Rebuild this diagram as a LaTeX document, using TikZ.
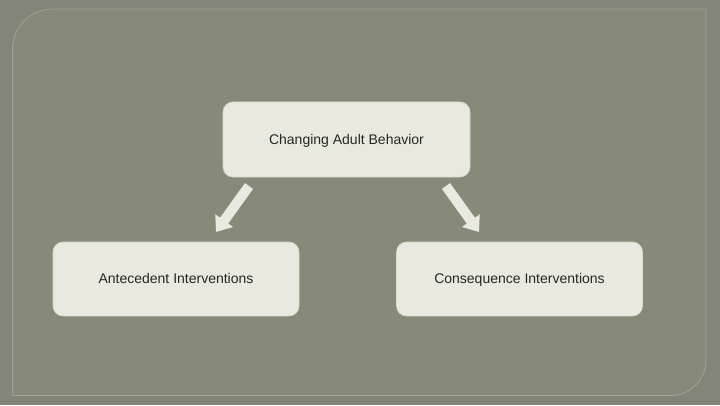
\documentclass[tikz,border=0pt]{standalone}
\usepackage{fontspec}
\setmainfont{Liberation Sans}
\usetikzlibrary{arrows.meta}
\definecolor{outerbg}{HTML}{828577}
\definecolor{panelbg}{HTML}{878A79}
\definecolor{panelline}{HTML}{A0A393}
\definecolor{boxfill}{HTML}{EAE9DF}
\definecolor{boxline}{HTML}{D8D8CC}
\tikzset{
  box/.style={rectangle, rounded corners=10pt, fill=boxfill, draw=boxline, line width=0.6pt,
    minimum width=246pt, minimum height=74pt, font=\fontsize{14}{16}\selectfont, text=black!85,
    inner sep=0pt, text height=10pt, text depth=1pt},
  blockarrow/.style={draw=boxfill, line width=10pt, -{Triangle[width=21pt,length=14pt]}}
}
\begin{document}
\begin{tikzpicture}[x=1pt,y=1pt]
\useasboundingbox (0,0) rectangle (720,405);
\fill[outerbg] (0,0) rectangle (720,405);
\filldraw[fill=panelbg, draw=panelline, line width=0.8pt]
  (12.5,9.5) -- (12.5,356) arc[start angle=180, end angle=90, radius=40]
  -- (706,396) -- (706,44.5) arc[start angle=0, end angle=-90, radius=35] -- cycle;
\node[box, minimum width=247pt, minimum height=75pt, text height=11pt, text depth=0pt] (top) at (346.5,265.5) {Changing Adult Behavior};
\node[box] (left) at (176,126) {Antecedent Interventions};
\node[box] (right) at (519.5,126) {Consequence Interventions};
\coordinate (la) at (249,219);
\coordinate (lb) at (216,173);
\coordinate (ra) at (446,219);
\coordinate (rb) at (479,173);
\draw[blockarrow] (la) -- (lb);
\draw[blockarrow] (ra) -- (rb);
\end{tikzpicture}
\end{document}
